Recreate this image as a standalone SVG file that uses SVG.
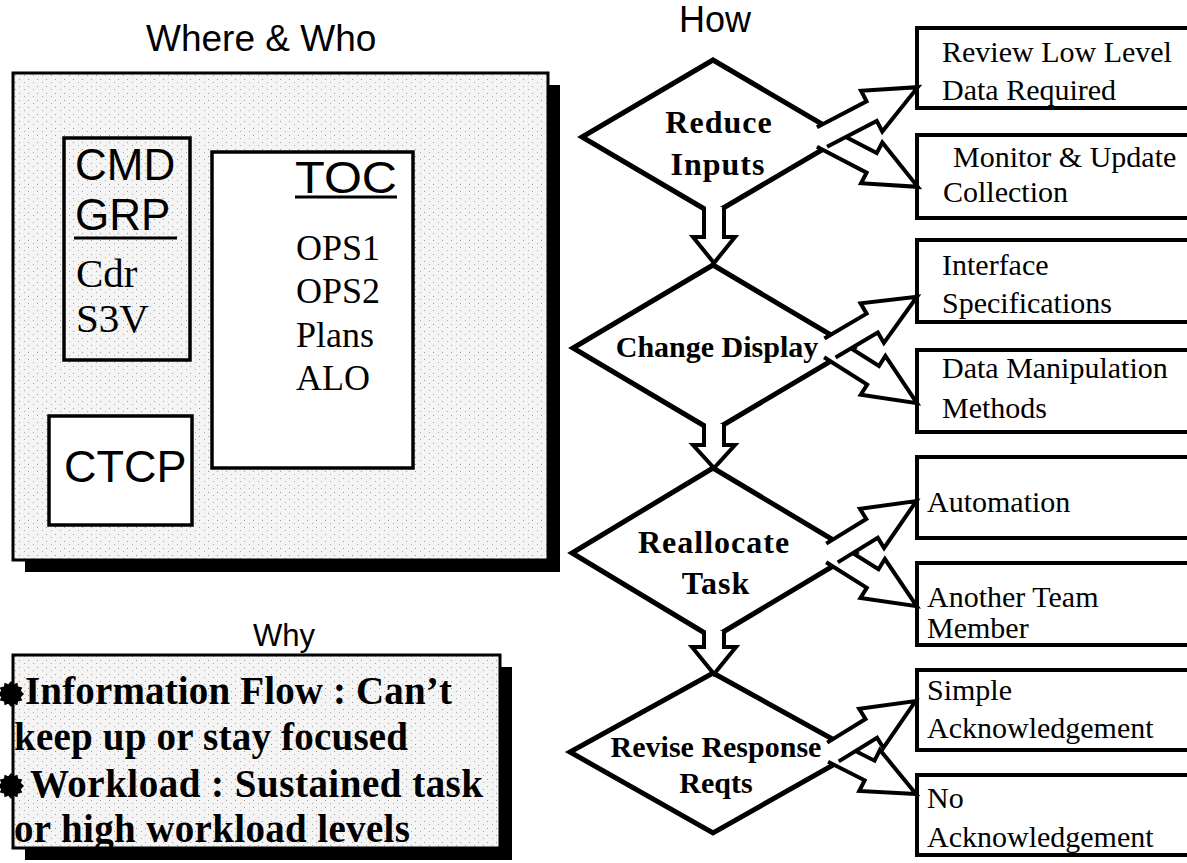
<svg xmlns="http://www.w3.org/2000/svg" width="1187" height="863" viewBox="0 0 1187 863">
<style>
.arial{font-family:"Liberation Sans",Arial,sans-serif;fill:#000}
.times{font-family:"Liberation Serif","Times New Roman",serif;fill:#000}
.tb{font-family:"Liberation Serif","Times New Roman",serif;font-weight:bold;fill:#000}
.box{fill:#fff;stroke:#000;stroke-width:3.5}
.rbox{fill:#fff;stroke:#000;stroke-width:4}
.dia{fill:#fff;stroke:#000;stroke-width:5;stroke-linejoin:miter}
.arr{fill:#fff;stroke:#000;stroke-width:4;stroke-linejoin:miter}
.shadow{fill:#000}
</style>
<defs>
<pattern id="stip" width="9" height="7" patternUnits="userSpaceOnUse">
<rect width="9" height="7" fill="#f4f4f4"/>
<rect x="1" y="2" width="1" height="1" fill="#999"/>
<rect x="6" y="5" width="1" height="1" fill="#aaa"/>
</pattern>
<polygon id="star" points="0,-13 2.7,-9.8 6.5,-11.3 7,-7.6 11.3,-6.5 9.8,-3.2 13,0 9.8,3.2 11.3,6.5 7,7.6 6.5,11.3 2.7,9.8 0,13 -2.7,9.8 -6.5,11.3 -7,7.6 -11.3,6.5 -9.8,3.2 -13,0 -9.8,-3.2 -11.3,-6.5 -7,-7.6 -6.5,-11.3 -2.7,-9.8"/>
</defs>
<rect width="1187" height="863" fill="#fff"/>

<!-- Titles -->
<text class="arial" x="146" y="51" font-size="37">Where &amp; Who</text>
<text class="arial" x="679" y="32" font-size="36">How</text>
<text class="arial" x="253" y="646" font-size="31">Why</text>

<!-- Where & Who container -->
<g id="where-who">
<rect class="shadow" x="25" y="85" width="535" height="487"/>
<rect x="13" y="73" width="535" height="487" fill="url(#stip)" stroke="#000" stroke-width="3"/>
</g>

<g id="cmd-grp">
<rect x="64" y="138" width="126" height="222" fill="url(#stip)" stroke="#000" stroke-width="3.5"/>
<text class="arial" x="75" y="180" font-size="44">CMD</text>
<text class="arial" x="75" y="230" font-size="44">GRP</text>
<line x1="74" y1="238" x2="177" y2="238" stroke="#000" stroke-width="3"/>
<text class="times" x="76" y="287" font-size="41">Cdr</text>
<text class="times" x="76" y="332" font-size="41">S3V</text>
</g>

<g id="ctcp">
<rect class="box" x="49" y="416" width="143" height="109"/>
<text class="arial" x="64" y="482" font-size="45">CTCP</text>
</g>

<g id="toc">
<rect class="box" x="212" y="152" width="201" height="316"/>
<text class="arial" x="295" y="193" font-size="44" textLength="102" lengthAdjust="spacingAndGlyphs">TOC</text>
<line x1="295" y1="197" x2="397" y2="197" stroke="#000" stroke-width="3"/>
<text class="times" x="296" y="260" font-size="36">OPS1</text>
<text class="times" x="296" y="303" font-size="36">OPS2</text>
<text class="times" x="296" y="347" font-size="36">Plans</text>
<text class="times" x="296" y="390" font-size="36">ALO</text>
</g>

<!-- Why box -->
<g id="why">
<rect class="shadow" x="25" y="667" width="487" height="193"/>
<rect x="13" y="655" width="487" height="193" fill="url(#stip)" stroke="#000" stroke-width="3"/>
<use href="#star" x="11" y="694"/>
<use href="#star" x="11" y="786"/>
<text class="tb" x="25" y="704" font-size="39" textLength="427" lengthAdjust="spacing">Information Flow : Can’t</text>
<text class="tb" x="14" y="750" font-size="39" textLength="394" lengthAdjust="spacing">keep up or stay focused</text>
<text class="tb" x="30" y="797" font-size="39" textLength="453" lengthAdjust="spacing">Workload : Sustained task</text>
<text class="tb" x="14" y="842" font-size="39" textLength="396" lengthAdjust="spacing">or high workload levels</text>
</g>

<!-- Diamonds -->
<g id="reduce-inputs">
<polygon class="dia" points="713,60 844,137 713,214 582,137"/>
<text class="tb" x="719" y="133" font-size="32" text-anchor="middle" letter-spacing="1">Reduce</text>
<text class="tb" x="718" y="175" font-size="32" text-anchor="middle" letter-spacing="1">Inputs</text>
</g>
<g id="change-display">
<polygon class="dia" points="713,265 853,348 713,431 573,348"/>
<text class="tb" x="717" y="357" font-size="30" text-anchor="middle">Change Display</text>
</g>
<g id="reallocate-task">
<polygon class="dia" points="713,468 855,553 713,638 572,553"/>
<text class="tb" x="714" y="553" font-size="32" text-anchor="middle" letter-spacing="1">Reallocate</text>
<text class="tb" x="716" y="594" font-size="32" text-anchor="middle" letter-spacing="1">Task</text>
</g>
<g id="revise-response">
<polygon class="dia" points="713,673 856,752 713,833 570,752"/>
<text class="tb" x="716" y="757" font-size="30" text-anchor="middle">Revise Response</text>
<text class="tb" x="716" y="793" font-size="30" text-anchor="middle">Reqts</text>
</g>

<!-- Right boxes -->
<g id="review-low-level">
<rect class="rbox" x="917" y="28" width="290" height="80"/>
<text class="times" x="942" y="62" font-size="30">Review Low Level</text>
<text class="times" x="942" y="100" font-size="30">Data Required</text>
</g>
<g id="monitor-update">
<rect class="rbox" x="917" y="135" width="290" height="83"/>
<text class="times" x="953" y="167" font-size="30">Monitor &amp; Update</text>
<text class="times" x="943" y="202" font-size="30">Collection</text>
</g>
<g id="interface-spec">
<rect class="rbox" x="917" y="240" width="290" height="82"/>
<text class="times" x="942" y="275" font-size="30">Interface</text>
<text class="times" x="942" y="313" font-size="30">Specifications</text>
</g>
<g id="data-manipulation">
<rect class="rbox" x="917" y="350" width="290" height="82"/>
<text class="times" x="942" y="378" font-size="30">Data Manipulation</text>
<text class="times" x="942" y="418" font-size="30">Methods</text>
</g>
<g id="automation">
<rect class="rbox" x="917" y="457" width="290" height="81"/>
<text class="times" x="927" y="512" font-size="30">Automation</text>
</g>
<g id="another-team">
<rect class="rbox" x="917" y="563" width="290" height="82"/>
<text class="times" x="927" y="607" font-size="30">Another Team</text>
<text class="times" x="927" y="638" font-size="30">Member</text>
</g>
<g id="simple-ack">
<rect class="rbox" x="917" y="670" width="290" height="80"/>
<text class="times" x="927" y="700" font-size="30">Simple</text>
<text class="times" x="927" y="738" font-size="30">Acknowledgement</text>
</g>
<g id="no-ack">
<rect class="rbox" x="917" y="775" width="290" height="80"/>
<text class="times" x="927" y="808" font-size="30">No</text>
<text class="times" x="927" y="847" font-size="30">Acknowledgement</text>
</g>

<!-- Connectors -->
<g id="connectors">
<!-- down arrows -->
<path class="arr" d="M704,207 V237 H693 L714,263 L735,237 H724 V207"/>
<path class="arr" d="M704,424 V445 H693 L714,468 L735,445 H724 V424"/>
<path class="arr" d="M704,631 V647 H692 L714,674 L736,647 H724 V631"/>
<!-- pair 1 -->
<g transform="translate(822,137) rotate(27.5)"><path class="arr" d="M0,-11 H56 V-23 L108,0 L56,23 V11 H0"/></g>
<g transform="translate(822,137) rotate(-27.5)"><path class="arr" d="M0,-11 H56 V-23 L108,0 L56,23 V11 H0"/></g>
<!-- pair 2 -->
<g transform="translate(830,348) rotate(32.4)"><path class="arr" d="M0,-11 H51 V-23 L103,0 L51,23 V11 H0"/></g>
<g transform="translate(830,348) rotate(-30.5)"><path class="arr" d="M0,-11 H49 V-23 L101,0 L49,23 V11 H0"/></g>
<!-- pair 3 -->
<g transform="translate(832,553) rotate(32.1)"><path class="arr" d="M0,-11 H48 V-23 L100,0 L48,23 V11 H0"/></g>
<g transform="translate(832,553) rotate(-31.6)"><path class="arr" d="M0,-11 H47 V-23 L99,0 L47,23 V11 H0"/></g>
<!-- pair 4 -->
<g transform="translate(833,752) rotate(26.8)"><path class="arr" d="M0,-11 H41 V-23 L93,0 L41,23 V11 H0"/></g>
<g transform="translate(833,752) rotate(-31.7)"><path class="arr" d="M0,-11 H45 V-23 L97,0 L45,23 V11 H0"/></g>
</g>
</svg>
